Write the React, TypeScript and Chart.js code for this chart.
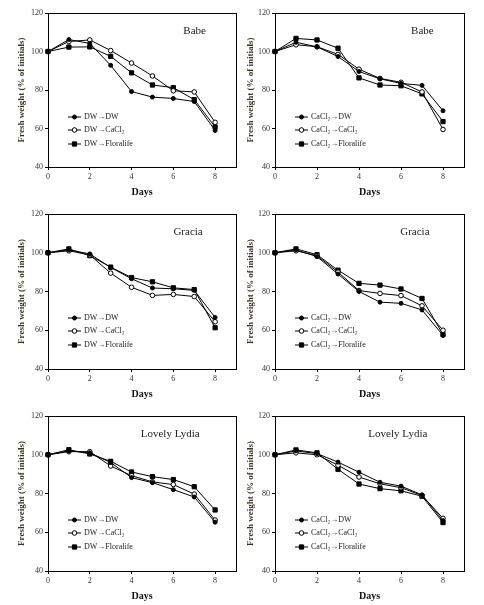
import React, { useEffect, useRef } from 'react';
import { Chart, registerables } from 'chart.js';

Chart.register(...registerables);

// ---------- data ----------
const days = [0, 1, 2, 3, 4, 5, 6, 7, 8];
const xTicks = [0, 2, 4, 6, 8];
const yTicks = [40, 60, 80, 100, 120];

const dwLabels = ['DW→DW', 'DW→CaCl₂', 'DW→Floralife'];
const caLabels = ['CaCl₂→DW', 'CaCl₂→CaCl₂', 'CaCl₂→Floralife'];

const babeDwDw = [100, 106.2, 104.2, 92.8, 79.2, 76.3, 75.6, 74.0, 59.0];
const babeDwCa = [100, 105.2, 106.0, 100.5, 94.0, 87.3, 79.6, 79.0, 63.2];
const babeDwFl = [100, 102.3, 102.4, 97.5, 88.9, 82.6, 81.2, 75.0, 60.8];

const babeCaDw = [100, 104.8, 102.4, 97.4, 89.6, 85.8, 83.4, 82.4, 69.2];
const babeCaCa = [100, 103.5, 102.5, 98.5, 90.8, 86.0, 84.0, 79.0, 59.5];
const babeCaFl = [100, 106.8, 106.0, 101.7, 86.3, 82.6, 82.2, 78.0, 63.6];

const graciaDwDw = [100, 101.5, 99.4, 92.4, 86.6, 81.8, 81.4, 80.6, 66.6];
const graciaDwCa = [100, 101.0, 98.9, 89.5, 82.2, 78.0, 78.5, 77.4, 64.4];
const graciaDwFl = [100, 102.0, 98.5, 92.6, 87.2, 85.0, 81.9, 81.0, 61.3];

const graciaCaDw = [100, 101.5, 98.0, 89.0, 80.0, 74.5, 73.9, 70.5, 57.3];
const graciaCaCa = [100, 101.0, 98.5, 90.0, 80.5, 79.0, 77.9, 72.6, 60.0];
const graciaCaFl = [100, 102.0, 99.0, 91.0, 84.2, 83.3, 81.3, 76.4, 57.8];

const lydiaDwDw = [100, 102.0, 101.0, 96.0, 88.2, 85.6, 82.0, 78.2, 65.2];
const lydiaDwCa = [100, 101.6, 101.6, 94.2, 89.2, 86.0, 84.6, 79.7, 66.3];
const lydiaDwFl = [100, 102.6, 100.4, 96.6, 91.1, 88.7, 87.2, 83.5, 71.5];

const lydiaCaDw = [100, 102.0, 100.6, 96.2, 91.0, 85.8, 83.8, 79.3, 66.0];
const lydiaCaCa = [100, 101.0, 100.0, 94.6, 88.5, 85.0, 83.0, 79.0, 67.2];
const lydiaCaFl = [100, 102.5, 101.0, 92.5, 84.9, 82.5, 81.4, 78.6, 65.0];

// ---------- layout / style ----------
const SERIF = '"Liberation Serif", "Times New Roman", serif';
const CANVAS_W = 242;
const TOP_PAD = 8;
const X_AXIS_H = 34;
const COLS = [
  { canvasLeft: 0, plotLeft: 48, plotRight: 236, titlePad: 16 },
  { canvasLeft: 242, plotLeft: 275, plotRight: 464, titlePad: 3 },
];
const ROWS = [
  { top: 13, bottom: 167 },
  { top: 214, bottom: 369 },
  { top: 416, bottom: 571 },
];
const LEGEND_ROWS = [104, 117, 131];
const MARKERS = [
  { style: 'circle', radius: 2, fill: '#000' },
  { style: 'circle', radius: 2.3, fill: '#fff' },
  { style: 'rect', radius: 3, fill: '#000' },
];

type PanelCfg = {
  title: string;
  titleFx: number;
  labels: string[];
  series: number[][];
  col: number;
  row: number;
};

const PANELS: PanelCfg[] = [
  { title: 'Babe', titleFx: 0.78, labels: dwLabels, series: [babeDwDw, babeDwCa, babeDwFl], col: 0, row: 0 },
  { title: 'Babe', titleFx: 0.78, labels: caLabels, series: [babeCaDw, babeCaCa, babeCaFl], col: 1, row: 0 },
  { title: 'Gracia', titleFx: 0.745, labels: dwLabels, series: [graciaDwDw, graciaDwCa, graciaDwFl], col: 0, row: 1 },
  { title: 'Gracia', titleFx: 0.74, labels: caLabels, series: [graciaCaDw, graciaCaCa, graciaCaFl], col: 1, row: 1 },
  { title: 'Lovely Lydia', titleFx: 0.65, labels: dwLabels, series: [lydiaDwDw, lydiaDwCa, lydiaDwFl], col: 0, row: 2 },
  { title: 'Lovely Lydia', titleFx: 0.65, labels: caLabels, series: [lydiaCaDw, lydiaCaCa, lydiaCaFl], col: 1, row: 2 },
];

function drawMarker(ctx: CanvasRenderingContext2D, i: number, x: number, y: number) {
  const m = MARKERS[i];
  ctx.beginPath();
  if (m.style === 'rect') {
    const s = Math.SQRT1_2 * m.radius;
    ctx.rect(x - s, y - s, 2 * s, 2 * s);
  } else {
    ctx.arc(x, y, m.radius, 0, Math.PI * 2);
  }
  ctx.fillStyle = m.fill;
  ctx.fill();
  ctx.lineWidth = 1;
  ctx.strokeStyle = '#000';
  ctx.stroke();
}

function Panel({ cfg }: { cfg: PanelCfg }) {
  const ref = useRef<HTMLCanvasElement | null>(null);
  const col = COLS[cfg.col];
  const row = ROWS[cfg.row];
  const plotH = row.bottom - row.top;
  const canvasH = plotH + TOP_PAD + X_AXIS_H;
  const canvasTop = row.top - TOP_PAD;

  useEffect(() => {
    if (!ref.current) return;
    const decor = {
      id: 'decor',
      beforeDatasetsDraw(chart: any) {
        const { ctx, chartArea: a } = chart;
        ctx.save();
        ctx.strokeStyle = '#000';
        ctx.lineWidth = 1;
        ctx.strokeRect(Math.round(a.left) + 0.5, Math.round(a.top) + 0.5, Math.round(a.right - a.left), Math.round(a.bottom - a.top));
        ctx.restore();
      },
      afterDatasetsDraw(chart: any) {
        const { ctx, chartArea: a } = chart;
        ctx.save();
        // panel title
        ctx.fillStyle = '#222';
        ctx.font = `11px ${SERIF}`;
        ctx.textAlign = 'center';
        ctx.textBaseline = 'middle';
        ctx.fillText(cfg.title, a.left + cfg.titleFx * (a.right - a.left), a.top + 18);
        // legend
        cfg.labels.forEach((lab, i) => {
          const y = a.top + LEGEND_ROWS[i];
          ctx.beginPath();
          ctx.moveTo(a.left + 20, y);
          ctx.lineTo(a.left + 33, y);
          ctx.lineWidth = 1;
          ctx.strokeStyle = '#000';
          ctx.stroke();
          drawMarker(ctx, i, a.left + 26.5, y);
          ctx.fillStyle = '#222';
          ctx.font = `8px ${SERIF}`;
          ctx.textAlign = 'left';
          ctx.textBaseline = 'middle';
          ctx.fillText(lab, a.left + 36, y);
        });
        ctx.restore();
      },
    };

    const chart = new Chart(ref.current, {
      type: 'line',
      data: {
        labels: days,
        datasets: cfg.series.map((vals, i) => ({
          label: cfg.labels[i],
          data: vals.map((v, j) => ({ x: days[j], y: v })),
          borderColor: '#000',
          borderWidth: 1,
          tension: 0,
          pointStyle: MARKERS[i].style as any,
          pointRadius: MARKERS[i].radius,
          pointBackgroundColor: MARKERS[i].fill,
          pointBorderColor: '#000',
          pointBorderWidth: 1,
          clip: false as any,
        })),
      },
      options: {
        animation: false,
        responsive: false,
        maintainAspectRatio: false,
        devicePixelRatio: 1,
        layout: {
          padding: { top: TOP_PAD, left: 0, bottom: 0, right: CANVAS_W - (col.plotRight - col.canvasLeft) },
        },
        plugins: { legend: { display: false }, tooltip: { enabled: false } },
        scales: {
          x: {
            type: 'linear',
            min: 0,
            max: 9,
            afterBuildTicks: (s: any) => { s.ticks = xTicks.map((v) => ({ value: v })); },
            afterFit: (s: any) => { s.height = X_AXIS_H; },
            ticks: { font: { family: SERIF, size: 8 }, color: '#333', padding: 2, maxRotation: 0, autoSkip: false },
            grid: { display: true, drawOnChartArea: false, drawTicks: true, tickLength: 3, color: '#000' },
            border: { display: false },
            title: { display: true, text: 'Days', color: '#111', font: { family: SERIF, size: 10, weight: 'bold' }, padding: { top: 0, bottom: 3 } },
          },
          y: {
            type: 'linear',
            min: 40,
            max: 120,
            afterBuildTicks: (s: any) => { s.ticks = yTicks.map((v) => ({ value: v })); },
            afterFit: (s: any) => { s.width = col.plotLeft - col.canvasLeft; },
            ticks: { font: { family: SERIF, size: 8 }, color: '#333', padding: 2 },
            grid: { display: true, drawOnChartArea: false, drawTicks: true, tickLength: 3, color: '#000' },
            border: { display: false },
            title: { display: true, text: 'Fresh weight (% of initials)', color: '#3b3321', font: { family: SERIF, size: 9, weight: 'bold' }, padding: { top: col.titlePad, bottom: 0 } },
          },
        },
      } as any,
      plugins: [decor],
    });
    return () => chart.destroy();
  }, []);

  return (
    <canvas
      ref={ref}
      width={CANVAS_W}
      height={canvasH}
      style={{ position: 'absolute', left: col.canvasLeft, top: canvasTop, width: CANVAS_W, height: canvasH, display: 'block' }}
    />
  );
}

export default function App() {
  return (
    <div style={{ position: 'absolute', left: 0, top: 0, width: 484, height: 605, background: '#fff', overflow: 'hidden' }}>
      {PANELS.map((p, i) => (
        <Panel key={i} cfg={p} />
      ))}
    </div>
  );
}
